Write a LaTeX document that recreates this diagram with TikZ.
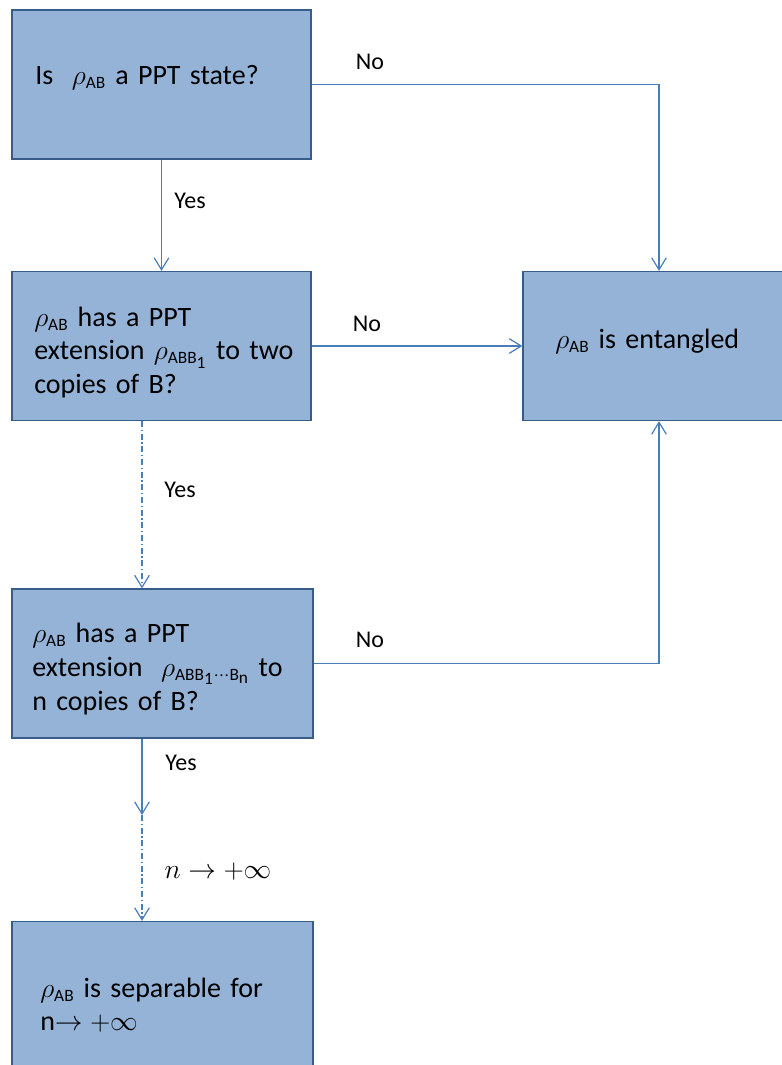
\documentclass[tikz,border=0pt]{standalone}
\usepackage{fontspec}
\setmainfont{Carlito}
\usetikzlibrary{arrows.meta}
\definecolor{boxfill}{HTML}{95B3D7}
\definecolor{boxline}{HTML}{385D8A}
\definecolor{arrowc}{HTML}{4A7EBB}
\newcommand\subtxt[1]{\mbox{\fontsize{13}{13}\selectfont #1}}
\tikzset{
  box/.style={draw=boxline, fill=boxfill, line width=0.9pt, rectangle,
    minimum height=111.75pt, inner sep=0pt},
  btext/.style={anchor=base west, inner sep=0pt, align=left, text width=240pt,
    font=\fontsize{21}{25}\selectfont},
  conn/.style={draw=arrowc, line width=0.9pt, -{Straight Barb[length=9pt,width=11pt]}},
  dashdot/.style={dash pattern=on 4.5pt off 2pt on 1pt off 2pt},
  lbl/.style={font=\fontsize{18}{22}\selectfont, inner sep=0pt},
}
\begin{document}
\begin{tikzpicture}[x=0.75pt,y=-0.75pt]
\useasboundingbox (0,0) rectangle (782,1065);
% boxes
\node[box, minimum width=224.25pt] (b1) at (161.5,84.5) {};
\node[box, minimum width=224.25pt] (b2) at (161.5,346) {};
\node[box, minimum width=204pt] (ent) at (659,346) {};
\node[box, minimum width=225.75pt] (b4) at (162.5,663.5) {};
\node[box, minimum width=225.75pt] (b5) at (162.5,996) {};
% box texts
\node[btext] (t1) at (35,84) {Is\ \ $\rho_{\subtxt{AB}}$ a PPT state?};
\node[btext, font=\fontsize{21}{25.2}\selectfont] (t2) at (34,326)
  {$\rho_{\subtxt{AB}}$ has a PPT\\extension $\rho_{\subtxt{ABB}_{\subtxt{1}}}$ to two\\copies of B?};
\node[btext] (tent) at (555,348) {$\rho_{\subtxt{AB}}$ is entangled};
\node[btext, font=\fontsize{21}{25.5}\selectfont] (t4) at (32,642)
  {$\rho_{\subtxt{AB}}$ has a PPT\\extension\ \ $\rho_{\subtxt{ABB}_{\subtxt{1}}\cdots\subtxt{B}_{\subtxt{n}}}$ to\\n copies of B?};
\node[btext] (t5) at (40,997)
  {$\rho_{\subtxt{AB}}$ is separable for\\n$\rightarrow +\infty$};
\coordinate (colx) at (142,0);
\coordinate (mid) at (142,815);
% connectors
\draw[conn] (b1.south) -- (b2.north);
\draw[conn] (b1.east) -| (ent.north);
\draw[conn] (b2.east) -- (ent.west);
\draw[conn, dashdot] (b2.south -| colx) -- (b4.north -| colx);
\draw[conn] (b4.east) -| (ent.south);
\draw[conn] (b4.south -| colx) -- (mid);
\draw[conn, dashdot] (mid) -- (b5.north -| colx);
% labels
\node[lbl] (no1) at (370,62) {No};
\node[lbl] (yes1) at (190,201) {Yes};
\node[lbl] (no2) at (367,324) {No};
\node[lbl] (yes2) at (180,490) {Yes};
\node[lbl] (no3) at (370,640) {No};
\node[lbl] (yes3) at (181,763) {Yes};
\node[font=\fontsize{21}{24}\selectfont, inner sep=0pt] (ninf) at (218,872) {$n \rightarrow +\infty$};
\end{tikzpicture}
\end{document}
